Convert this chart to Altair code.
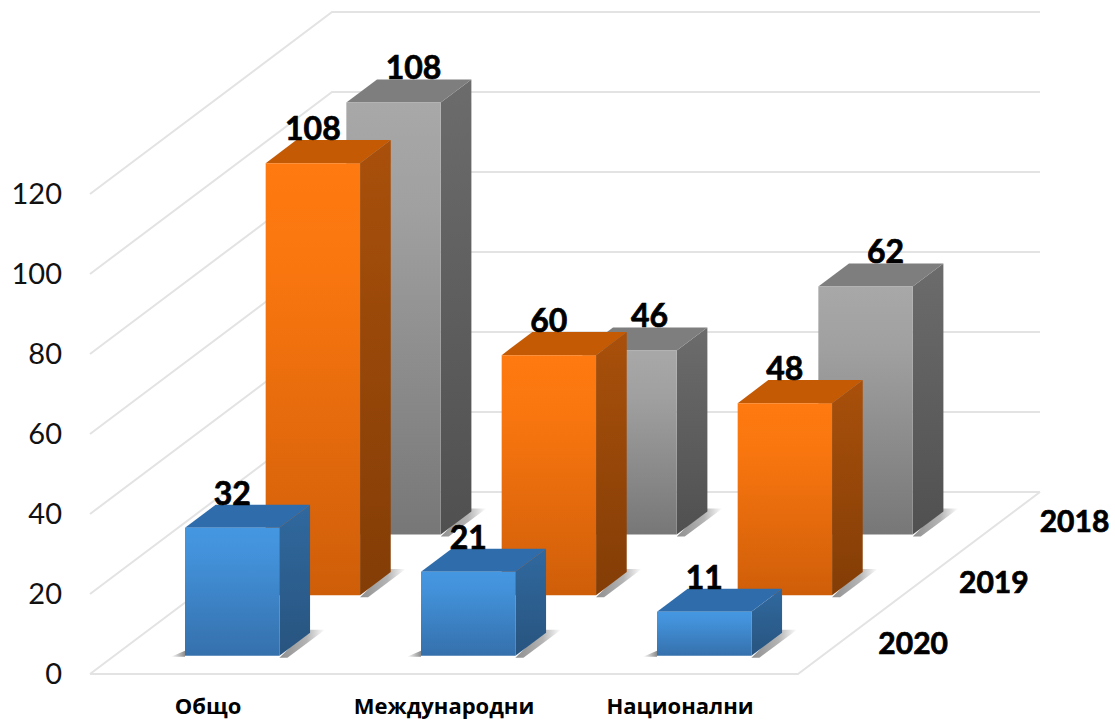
import altair as alt
import pandas as pd

# Chart values
categories = ["Общо", "Международни", "Национални"]
years = ["2020", "2019", "2018"]
values_2020 = [32, 21, 11]
values_2019 = [108, 60, 48]
values_2018 = [108, 46, 62]
series_values = [values_2020, values_2019, values_2018]
ticks = [0, 20, 40, 60, 80, 100, 120]

# Oblique projection of (category, depth, value) to drawing coordinates
ORIGIN_X, ORIGIN_Y = 90, 674
CAT_STEP = 236
DEPTH_DX, DEPTH_DY = 80.67, 60.67
UNIT = 4.0
BAR_START, BAR_WIDTH = 0.3, 0.4
DEPTH_START, DEPTH_SIZE = 0.3, 0.38


def px(c, d):
    return ORIGIN_X + CAT_STEP * c + DEPTH_DX * d


def py(d, v):
    return ORIGIN_Y - DEPTH_DY * d - UNIT * v


X = alt.Scale(domain=[0, 1115], nice=False, zero=False)
Y = alt.Scale(domain=[720, 0], nice=False, zero=False)


def xe(f="x"):
    return alt.X(f"{f}:Q", scale=X, axis=None)


def ye(f="y"):
    return alt.Y(f"{f}:Q", scale=Y, axis=None)


def grad(stops, horizontal=False):
    return alt.Gradient(
        gradient="linear",
        stops=[alt.GradientStop(offset=o, color=c) for o, c in stops],
        x1=0, y1=0,
        x2=1 if horizontal else 0,
        y2=0 if horizontal else 1,
    )


palette = [
    dict(front=[(0, "#4597e2"), (0.25, "#4290d8"), (1, "#3570ac")],
         side=[(0, "#30699f"), (1, "#28547f")], top="#2f6cab"),
    dict(front=[(0, "#ff7a10"), (0.25, "#f9760f"), (1, "#cf5e09")],
         side=[(0, "#a9500b"), (1, "#833d06")], top="#c55a05"),
    dict(front=[(0, "#a8a8a8"), (0.25, "#a0a0a0"), (1, "#777777")],
         side=[(0, "#6c6c6c"), (1, "#505050")], top="#7e7e7e"),
]

layers = []

# Walls and floor
GRID = "#e3e3e3"
grid_rows = []
for k, t in enumerate(ticks):
    grid_rows += [
        dict(g=f"t{k}", o=0, x=px(0, 0), y=py(0, t)),
        dict(g=f"t{k}", o=1, x=px(0, 3), y=py(3, t)),
        dict(g=f"t{k}", o=2, x=px(3, 3), y=py(3, t)),
    ]
grid_rows += [
    dict(g="floor", o=0, x=px(0, 0), y=py(0, 0)),
    dict(g="floor", o=1, x=px(3, 0), y=py(0, 0)),
    dict(g="floor", o=2, x=px(3, 3), y=py(3, 0)),
]
layers.append(
    alt.Chart(pd.DataFrame(grid_rows)).mark_line(color=GRID, strokeWidth=2).encode(
        x=xe(), y=ye(), detail="g:N", order="o:Q"
    )
)

# Bars, back row first
for s in [2, 1, 0]:
    d0 = s + DEPTH_START
    d1 = d0 + DEPTH_SIZE
    front, side, top, shadow, lshadow = [], [], [], [], []
    for c, v in enumerate(series_values[s]):
        c0, c1 = c + BAR_START, c + BAR_START + BAR_WIDTH
        xl, xr = px(c0, d0), px(c1, d0)
        front.append(dict(c=c, x=xl, x2=xr, y=py(d0, v), y2=py(d0, 0)))
        side += [
            dict(c=c, x=xr, y=py(d0, v), y2=py(d0, 0)),
            dict(c=c, x=px(c1, d1), y=py(d1, v), y2=py(d1, 0)),
        ]
        top += [
            dict(c=c, y=py(d0, v), x=xl, x2=xr),
            dict(c=c, y=py(d1, v), x=px(c0, d1), x2=px(c1, d1)),
        ]
        # Soft contact shadow along the side face and at the front-left corner
        shadow += [
            dict(c=c, y=py(d1, 0) - 3, x=px(c1, d1) - 2, x2=px(c1, d1) + 15),
            dict(c=c, y=py(d0, 0) + 2, x=xr, x2=xr + 8),
        ]
        lshadow += [
            dict(c=c, y=py(d0, 0) - 5, x=xl, x2=xl),
            dict(c=c, y=py(d0, 0) + 1, x=xl - 14, x2=xl),
        ]
    p = palette[s]
    layers.append(
        alt.Chart(pd.DataFrame(shadow))
        .mark_area(orient="horizontal",
                   fill=grad([(0, "#8f8f8f"), (0.6, "#b4b4b4"), (1, "#ffffff")], True))
        .encode(x=xe(), x2="x2:Q", y=ye(), detail="c:N")
    )
    layers.append(
        alt.Chart(pd.DataFrame(lshadow))
        .mark_area(orient="horizontal",
                   fill=grad([(0, "#ffffff"), (1, "#8c8c8c")], True))
        .encode(x=xe(), x2="x2:Q", y=ye(), detail="c:N")
    )
    layers.append(
        alt.Chart(pd.DataFrame(side))
        .mark_area(orient="vertical", fill=grad(p["side"]))
        .encode(x=xe(), y=ye(), y2="y2:Q", detail="c:N")
    )
    layers.append(
        alt.Chart(pd.DataFrame(top))
        .mark_area(orient="horizontal", fill=p["top"])
        .encode(x=xe(), x2="x2:Q", y=ye(), detail="c:N")
    )
    layers.append(
        alt.Chart(pd.DataFrame(front))
        .mark_rect(fill=grad(p["front"]))
        .encode(x=xe(), x2="x2:Q", y=ye(), y2="y2:Q")
    )

# Value labels sit on the back edge of each bar top
label_shift = [0, 0, 20]
value_rows = []
for s in [2, 1, 0]:
    d0 = s + DEPTH_START
    for c, v in enumerate(series_values[s]):
        value_rows.append(
            dict(
                x=px(c + BAR_START + BAR_WIDTH / 2, d0) + label_shift[s],
                y=py(d0 + DEPTH_SIZE, v),
                t=str(v),
            )
        )
layers.append(
    alt.Chart(pd.DataFrame(value_rows))
    .mark_text(font="Lato", fontWeight="bold", fontSize=32, color="#000000",
               stroke="#000000", strokeWidth=0.7,
               align="center", baseline="alphabetic")
    .encode(x=xe(), y=ye(), text="t:N")
)

# Value axis
tick_rows = [dict(x=px(0, 0) - 28, y=py(0, t) + 1, t=str(t)) for t in ticks]
layers.append(
    alt.Chart(pd.DataFrame(tick_rows))
    .mark_text(font="Lato", fontSize=29, color="#111111", align="right", baseline="middle")
    .encode(x=xe(), y=ye(), text="t:N")
)

# Depth axis
year_rows = [
    dict(x=px(3, s + 0.5) + 40, y=py(s + 0.5, 0) + 1, t=yr)
    for s, yr in enumerate(years)
]
layers.append(
    alt.Chart(pd.DataFrame(year_rows))
    .mark_text(font="Lato", fontWeight="bold", fontSize=30, color="#000000",
               stroke="#000000", strokeWidth=0.7,
               align="left", baseline="middle")
    .encode(x=xe(), y=ye(), text="t:N")
)

# Category axis
cat_rows = [
    dict(x=px(c + 0.5, 0), y=py(0, 0) + 33, t=name)
    for c, name in enumerate(categories)
]
layers.append(
    alt.Chart(pd.DataFrame(cat_rows))
    .mark_text(font="Open Sans", fontWeight="bold", fontSize=22, color="#000000",
               align="center", baseline="middle")
    .encode(x=xe(), y=ye(), text="t:N")
)

chart = (
    alt.layer(*layers)
    .properties(width=1115, height=720, padding=0, autosize="none", background="#ffffff")
    .configure_view(stroke=None)
)

chart.save("out.html", embed_options={"renderer": "svg", "actions": False})
